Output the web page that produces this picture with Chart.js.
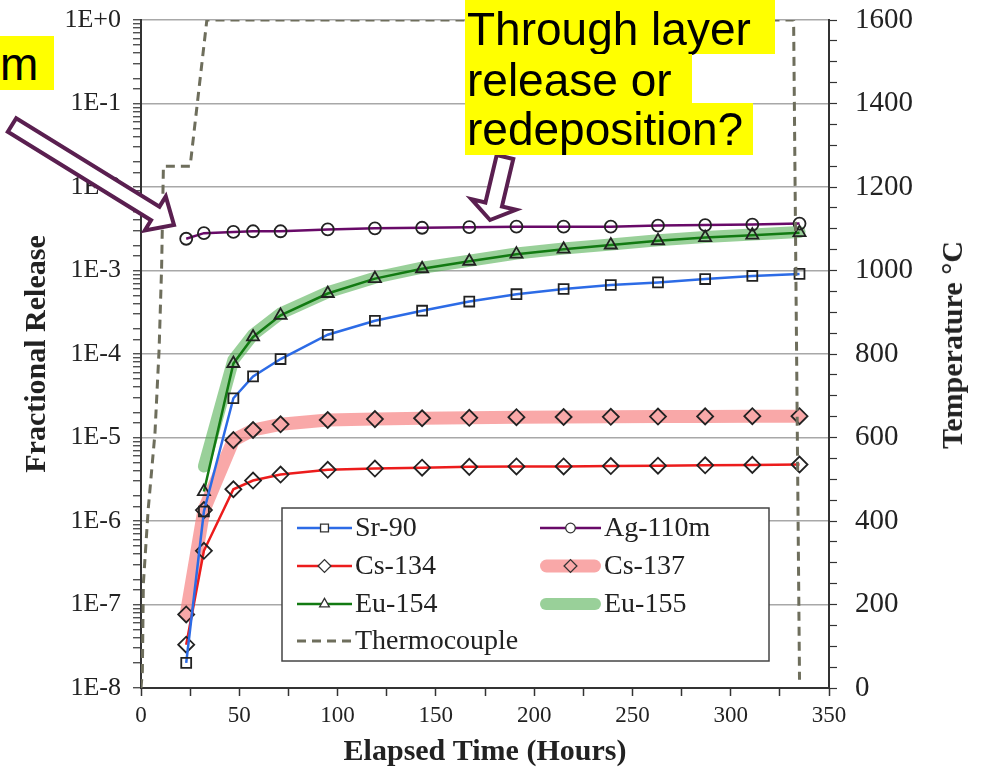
<!DOCTYPE html>
<html><head><meta charset="utf-8">
<script src="https://cdn.jsdelivr.net/npm/chart.js@4.4.1/dist/chart.umd.min.js"></script>
<style>
html,body{margin:0;padding:0;background:#fff;}
#wrap{position:relative;width:983px;height:772px;overflow:hidden;background:#fff;}
#c{position:absolute;left:0;top:0;}
.hl{position:absolute;background:#ffff00;font-family:"Liberation Sans",Arial,sans-serif;font-size:46px;color:#000;white-space:nowrap;box-sizing:border-box;padding-left:2px;}
#ytitle2{position:absolute;left:952px;top:345px;transform:translate(-50%,-50%) rotate(-90deg);font-family:"Liberation Serif","Times New Roman",serif;font-weight:bold;font-size:30px;color:#222;white-space:nowrap;}
</style></head><body>
<div id="wrap">
<canvas id="c" width="983" height="772"></canvas>
<div class="hl" style="left:0px;top:36px;width:54px;height:54px;line-height:56px;padding-left:0;">m</div>
<div class="hl" style="left:465px;top:0px;width:310px;height:54px;line-height:58px;">Through layer</div>
<div class="hl" style="left:465px;top:54px;width:227px;height:49px;line-height:52px;">release or</div>
<div class="hl" style="left:465px;top:103px;width:288px;height:52px;line-height:52px;">redeposition?</div>
<div id="ytitle2">Temperature °C</div>
</div>
<script>
// ---- data ----
const hours   = [23, 32, 47, 57, 71, 95, 119, 143, 167, 191, 215, 239, 263, 287, 311, 335];
const sr90    = [2.0e-8, 1.3e-6, 2.95e-5, 5.4e-5, 8.7e-5, 1.7e-4, 2.5e-4, 3.3e-4, 4.25e-4, 5.2e-4, 6.0e-4, 6.7e-4, 7.2e-4, 7.9e-4, 8.6e-4, 9.1e-4];
const ag110m  = [2.4e-3, 2.8e-3, 2.9e-3, 2.95e-3, 2.95e-3, 3.1e-3, 3.2e-3, 3.25e-3, 3.3e-3, 3.35e-3, 3.35e-3, 3.35e-3, 3.45e-3, 3.5e-3, 3.55e-3, 3.65e-3];
const cs134   = [3.3e-8, 4.4e-7, 2.4e-6, 3.05e-6, 3.6e-6, 4.1e-6, 4.25e-6, 4.35e-6, 4.45e-6, 4.5e-6, 4.5e-6, 4.55e-6, 4.6e-6, 4.65e-6, 4.7e-6, 4.75e-6];
const cs137   = [7.6e-8, 1.35e-6, 9.3e-6, 1.23e-5, 1.44e-5, 1.62e-5, 1.66e-5, 1.7e-5, 1.72e-5, 1.75e-5, 1.76e-5, 1.77e-5, 1.78e-5, 1.79e-5, 1.8e-5, 1.8e-5];
const eu154   = [null, 2.25e-6, 7.7e-5, 1.6e-4, 2.9e-4, 5.3e-4, 8.0e-4, 1.05e-3, 1.29e-3, 1.57e-3, 1.8e-3, 2.02e-3, 2.27e-3, 2.48e-3, 2.65e-3, 2.84e-3];
const eu155   = [null, 4.5e-6, 8.5e-5, 1.7e-4, 3.05e-4, 5.5e-4, 8.2e-4, 1.08e-3, 1.31e-3, 1.6e-3, 1.83e-3, 2.05e-3, 2.3e-3, 2.52e-3, 2.7e-3, 2.9e-3];
const tcHours = [0, 0.7, 1.2, 3.7, 7.1, 9.2, 10.5, 11.4, 25, 33.5, 332, 335];
const tcTemp  = [0, 40, 250, 430, 610, 810, 1010, 1250, 1250, 1600, 1600, 20];
const releaseTickLabels = ['1E+0','1E-1','1E-2','1E-3','1E-4','1E-5','1E-6','1E-7','1E-8'];
const tempTickLabels = ['0','200','400','600','800','1000','1200','1400','1600'];
const hourTickLabels = ['0','50','100','150','200','250','300','350'];

const pts = (xs, ys) => xs.map((x, i) => ({x: x, y: ys[i]})).filter(p => p.y !== null);
const SERIF = '"Liberation Serif","Times New Roman",serif';
const isDecade = v => { const e = Math.log10(v); return Math.abs(e - Math.round(e)) < 1e-6; };
const markerBase = {pointBorderColor:'#222', pointBackgroundColor:'rgba(0,0,0,0)', pointBorderWidth:1.8};

const dsTC   = {label:'Thermocouple', yAxisID:'yT', data:pts(tcHours, tcTemp), borderColor:'#6e6e5c', borderWidth:3, borderDash:[9,6], pointRadius:0, order:0};
const dsSr   = Object.assign({label:'Sr-90', yAxisID:'y', data:pts(hours, sr90), borderColor:'#2c6be6', borderWidth:2.5, pointStyle:'rect', pointRadius:7, order:1}, markerBase);
const dsAg   = Object.assign({label:'Ag-110m', yAxisID:'y', data:pts(hours, ag110m), borderColor:'#680a68', borderWidth:2.5, pointStyle:'circle', pointRadius:6, order:1}, markerBase);
const dsCs4  = Object.assign({label:'Cs-134', yAxisID:'y', data:pts(hours, cs134), borderColor:'#ec1c1c', borderWidth:2.5, pointStyle:'rectRot', pointRadius:8, order:1}, markerBase);
const dsCs7  = Object.assign({label:'Cs-137', yAxisID:'y', data:pts(hours, cs137), borderColor:'rgba(247,135,135,0.72)', borderWidth:13, borderCapStyle:'round', borderJoinStyle:'round', pointStyle:'rectRot', pointRadius:8, order:5}, markerBase);
const dsEu4  = Object.assign({label:'Eu-154', yAxisID:'y', data:pts(hours, eu154), borderColor:'#127a12', borderWidth:2.5, pointStyle:'triangle', pointRadius:7, order:1}, markerBase);
const dsEu5  = {label:'Eu-155', yAxisID:'y', data:pts(hours, eu155), borderColor:'rgba(70,170,70,0.55)', borderWidth:12, borderCapStyle:'round', borderJoinStyle:'round', pointRadius:0, order:6};

function drawArrow(ctx, tx, ty, px, py, shaftW, headW, headL) {
  const dx = px - tx, dy = py - ty, len = Math.hypot(dx, dy);
  const ux = dx / len, uy = dy / len, nx = -uy, ny = ux;
  const nkx = px - ux * headL, nky = py - uy * headL;
  const s = shaftW / 2, h = headW / 2;
  ctx.save();
  ctx.beginPath();
  ctx.moveTo(tx + nx * s, ty + ny * s);
  ctx.lineTo(nkx + nx * s, nky + ny * s);
  ctx.lineTo(nkx + nx * h, nky + ny * h);
  ctx.lineTo(px, py);
  ctx.lineTo(nkx - nx * h, nky - ny * h);
  ctx.lineTo(nkx - nx * s, nky - ny * s);
  ctx.lineTo(tx - nx * s, ty - ny * s);
  ctx.closePath();
  ctx.fillStyle = '#ffffff';
  ctx.fill();
  ctx.lineWidth = 4;
  ctx.lineJoin = 'miter';
  ctx.strokeStyle = '#5a1f50';
  ctx.stroke();
  ctx.restore();
}

function drawLegend(ctx) {
  const box = {x:282, y:508, w:487, h:153};
  ctx.save();
  ctx.fillStyle = '#fff';
  ctx.fillRect(box.x, box.y, box.w, box.h);
  ctx.strokeStyle = '#444';
  ctx.lineWidth = 1.5;
  ctx.strokeRect(box.x, box.y, box.w, box.h);
  const items = [
    [dsSr, 0, 0], [dsAg, 1, 0], [dsCs4, 0, 1], [dsCs7, 1, 1], [dsEu4, 0, 2], [dsEu5, 1, 2], [dsTC, 0, 3]
  ];
  const cols = [{x0:297, x1:352, tx:355}, {x0:540, x1:601, tx:604}];
  const rows = [528, 566, 604, 641];
  ctx.font = '28px ' + SERIF;
  ctx.textBaseline = 'middle';
  ctx.textAlign = 'left';
  items.forEach(([ds, c, r]) => {
    const col = cols[c], y = rows[r];
    ctx.save();
    ctx.strokeStyle = ds.borderColor;
    ctx.lineWidth = ds.borderWidth;
    ctx.lineCap = ds.borderWidth > 6 ? 'round' : 'butt';
    ctx.setLineDash(ds.borderDash || []);
    const inset = ds.borderWidth > 6 ? ds.borderWidth / 2 : 0;
    ctx.beginPath();
    ctx.moveTo(col.x0 + inset, y);
    ctx.lineTo(col.x1 - inset, y);
    ctx.stroke();
    ctx.restore();
    if (ds.pointRadius > 0) {
      ctx.save();
      ctx.fillStyle = ds.borderWidth > 6 ? 'rgba(0,0,0,0)' : '#fff';
      ctx.strokeStyle = '#333';
      ctx.lineWidth = 1.3;
      Chart.helpers.drawPoint(ctx, {pointStyle: ds.pointStyle, radius: ds.pointRadius * 0.8, rotation: 0, borderWidth: 1.3}, (col.x0 + col.x1) / 2, y);
      ctx.restore();
    }
    ctx.fillStyle = '#222';
    ctx.fillText(ds.label, col.tx, y + 1);
  });
  ctx.restore();
}

const overlay = {
  id: 'overlay',
  afterDraw(chart) {
    const ctx = chart.ctx;
    drawLegend(ctx);
    drawArrow(ctx, 12, 125, 174, 225, 16, 40, 22);
    drawArrow(ctx, 505, 157, 490, 220, 17, 46, 16);
  }
};

const noPadV = s => { s.paddingTop = 0; s.paddingBottom = 0; };

new Chart(document.getElementById('c'), {
  type: 'line',
  data: {datasets: [dsTC, dsSr, dsAg, dsCs4, dsCs7, dsEu4, dsEu5]},
  options: {
    responsive: false,
    devicePixelRatio: 1,
    animation: false,
    events: [],
    layout: {padding: {top: 20, left: 0, right: 0, bottom: 0}},
    plugins: {legend: {display: false}, tooltip: {enabled: false}},
    scales: {
      x: {
        type: 'linear', min: 0, max: 350,
        ticks: {stepSize: 25, autoSkip: false, maxRotation: 0, padding: 6, color: '#222', font: {family: SERIF, size: 23},
          callback: v => (v % 50 === 0 ? hourTickLabels[v / 50] : '')},
        grid: {drawOnChartArea: false, tickLength: 8, tickColor: '#333', tickWidth: 1.5},
        border: {color: '#333', width: 2},
        title: {display: true, text: 'Elapsed Time (Hours)', color: '#222', font: {family: SERIF, size: 30, weight: 'bold'}, padding: {top: 0, bottom: 2}},
        afterFit: s => { s.height = 84; s.paddingLeft = 0; s.paddingRight = 0; }
      },
      y: {
        type: 'logarithmic', position: 'left', min: 1e-8, max: 1,
        ticks: {autoSkip: false, padding: 12, color: '#222', font: {family: SERIF, size: 26},
          callback: v => (isDecade(v) ? releaseTickLabels[-Math.round(Math.log10(v))] : '')},
        grid: {color: ctx => (ctx.tick && isDecade(ctx.tick.value) ? '#a8a8a8' : 'rgba(0,0,0,0)'), lineWidth: 1.5, tickLength: 8, tickColor: '#333', tickWidth: 1.2},
        border: {color: '#333', width: 2},
        title: {display: true, text: 'Fractional Release', color: '#222', font: {family: SERIF, size: 30, weight: 'bold'}, padding: {top: 19, bottom: 0}},
        afterFit: s => { s.width = 141; noPadV(s); }
      },
      yT: {
        type: 'linear', position: 'right', min: 0, max: 1600,
        ticks: {stepSize: 50, autoSkip: false, padding: 18, color: '#222', font: {family: SERIF, size: 29},
          callback: v => (v % 200 === 0 ? tempTickLabels[v / 200] : '')},
        grid: {drawOnChartArea: false, tickLength: 8, tickColor: '#333', tickWidth: 1.2},
        border: {color: '#333', width: 2},
        afterFit: s => { s.width = 154; noPadV(s); }
      }
    }
  },
  plugins: [overlay]
});
</script>
</body></html>
